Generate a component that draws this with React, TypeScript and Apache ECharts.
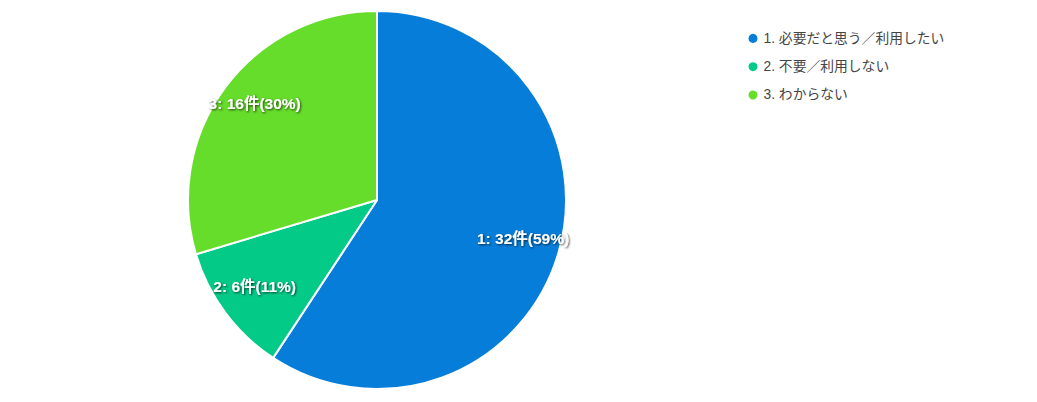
import React, { useEffect, useRef } from "react";
import * as echarts from "echarts";

const categories = ["1. 必要だと思う／利用したい", "2. 不要／利用しない", "3. わからない"];
const codes = ["1", "2", "3"];
const values = [32, 6, 16];
const colors = ["#077dda", "#04ca87", "#66dc2b"];
const unit = "件";

export default function App() {
  const ref = useRef<HTMLDivElement>(null);
  useEffect(() => {
    if (!ref.current) return;
    const chart = echarts.init(ref.current, undefined, { renderer: "svg" });
    const data = categories.map((name, i) => ({ name, value: values[i], itemStyle: { color: colors[i] } }));
    const font = "Arial, 'Liberation Sans', 'Noto Sans CJK JP', sans-serif";
    chart.setOption({
      animation: false,
      backgroundColor: "#ffffff",
      legend: {
        orient: "vertical",
        left: 746.5,
        top: 31.5,
        padding: 0,
        icon: "circle",
        itemWidth: 11,
        itemHeight: 11,
        itemGap: 14.5,
        textStyle: { fontSize: 13.8, color: "#444444", fontFamily: font },
        data: categories,
      },
      series: [
        {
          type: "pie",
          center: [377, 200],
          radius: [0, 189],
          startAngle: 90,
          clockwise: true,
          silent: true,
          data,
          itemStyle: { borderColor: "#ffffff", borderWidth: 2 },
          label: { show: false },
          labelLine: { show: false },
        },
        {
          type: "pie",
          center: [377, 200],
          radius: [110, 189],
          startAngle: 90,
          clockwise: true,
          silent: true,
          percentPrecision: 0,
          legendHoverLink: false,
          data: categories.map((name, i) => ({ name, value: values[i], itemStyle: { color: "rgba(0,0,0,0)" } })),
          itemStyle: { color: "rgba(0,0,0,0)" },
          label: {
            show: true,
            position: "inside",
            offset: [0, -5],
            formatter: (p: any) => `${codes[p.dataIndex]}: ${p.value}${unit}(${p.percent}%)`,
            color: "#ffffff",
            fontSize: 15.5,
            fontWeight: "bold",
            fontFamily: font,
            textBorderWidth: 0,
            textShadowColor: "rgba(0,0,0,0.7)",
            textShadowBlur: 2,
            textShadowOffsetX: 1,
            textShadowOffsetY: 1,
          },
          labelLine: { show: false },
        },
      ],
    });
    return () => chart.dispose();
  }, []);
  return <div ref={ref} style={{ position: "fixed", left: 0, top: 0, width: 1037, height: 402 }} />;
}
